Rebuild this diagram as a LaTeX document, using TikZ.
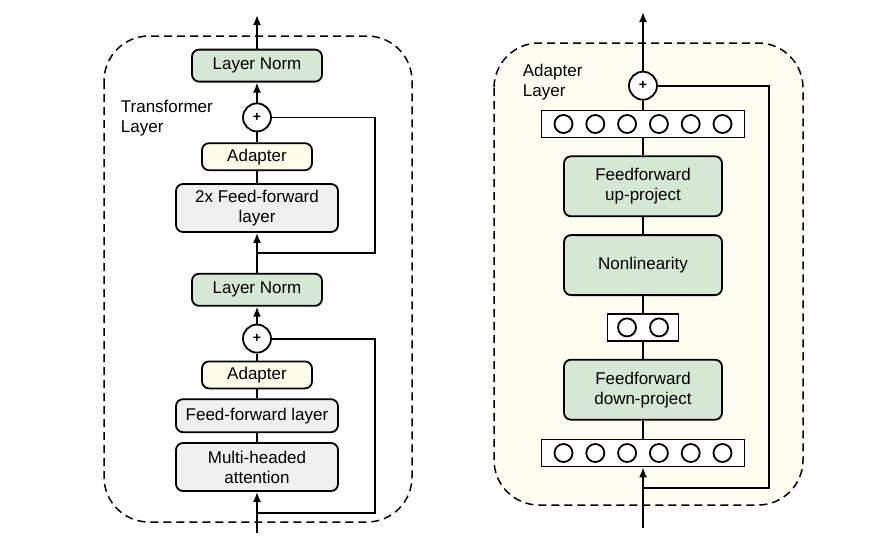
\documentclass[tikz,border=0pt]{standalone}
\usepackage{fontspec}
\setmainfont{Liberation Sans}
\usetikzlibrary{positioning, arrows.meta}

\definecolor{normgreen}{HTML}{D5E8D4}
\definecolor{adaptyellow}{HTML}{FFFCE9}
\definecolor{layergray}{HTML}{F0F0F0}
\definecolor{panelyellow}{HTML}{FEFDF0}

\begin{document}
\begin{tikzpicture}[x=1pt, y=-1pt,
    font=\fontsize{17}{20}\selectfont,
    line width=1.8pt,
    box/.style={draw, rounded corners=7pt, align=center, inner sep=0pt},
    norm/.style={box, fill=normgreen, minimum width=130pt, minimum height=32pt},
    adapt/.style={box, fill=adaptyellow, minimum width=110pt, minimum height=27pt},
    sublayer/.style={box, fill=layergray, minimum width=162pt},
    proj/.style={box, fill=normgreen, minimum width=158pt, minimum height=60pt},
    addop/.style={draw, circle, fill=white, minimum size=28pt, inner sep=0pt,
      font=\fontsize{14}{14}\selectfont\bfseries},
    neurons/.style={draw, fill=white, inner sep=0pt, minimum height=27pt},
    neuron/.style={draw, circle, fill=white, minimum size=18pt, inner sep=0pt},
    panel/.style={line width=1.5pt, dash pattern=on 8pt off 5pt, rounded corners=45pt},
    arr/.style={-{Latex[length=10pt, width=8pt]}}]
  \useasboundingbox (0,0) rectangle (874,552);

  % panels
  \draw[panel] (104,36) rectangle (412,522);
  \draw[panel, fill=panelyellow] (494,43) rectangle (803,505);

  % transformer layer
  \node[sublayer, minimum height=48pt] (mha) at (257,467) {Multi-headed\\attention};
  \node[sublayer, minimum height=33pt, above=9pt of mha] (ff) {Feed-forward layer};
  \node[adapt, above=9pt of ff] (ad1) {Adapter};
  \node[addop, above=7pt of ad1] (add1) {+};
  \node[norm, above=17pt of add1] (ln1) {Layer Norm};
  \node[sublayer, minimum height=48pt, above=40pt of ln1] (ff2) {2x Feed-forward\\layer};
  \node[adapt, above=12pt of ff2] (ad2) {Adapter};
  \node[addop, above=10pt of ad2] (add2) {+};
  \node[norm, above=20pt of add2] (ln2) {Layer Norm};
  \node[inner sep=0pt, anchor=north west, align=left] (tlabel) at (120,99) {Transformer\\Layer};

  \coordinate (lin) at (257,533);
  \coordinate (lout) at (257,15);
  \coordinate (lskip1) at (375,513);
  \coordinate (lskip2) at (375,253);
  \draw[arr] (lin) -- (mha);
  \draw (mha) -- (ff) (ff) -- (ad1) (ad1) -- (add1);
  \draw[arr] (add1) -- (ln1);
  \draw[arr] (ln1) -- (ff2);
  \draw (ff2) -- (ad2) (ad2) -- (add2);
  \draw[arr] (add2) -- (ln2);
  \draw[arr] (ln2) -- (lout);
  \draw (add1) -| (lskip1) -- (lskip1 -| mha);
  \draw (add2) -| (lskip2) -- (lskip2 -| ff2);

  % adapter layer
  \node[neurons, minimum width=203pt] (inbox) at (643,453) {};
  \node[proj, above=18pt of inbox] (down) {Feedforward\\down-project};
  \node[neurons, minimum width=71pt, above=17pt of down] (midbox) {};
  \node[proj, above=17pt of midbox] (nonlin) {Nonlinearity};
  \node[proj, above=17pt of nonlin] (up) {Feedforward\\up-project};
  \node[neurons, minimum width=203pt, above=17pt of up] (outbox) {};
  \node[addop, above=9pt of outbox] (add3) {+};
  \node[inner sep=0pt, anchor=north west, align=left] (alabel) at (522,63) {Adapter\\Layer};
  \foreach \i [evaluate=\i as \dx using (\i-3.5)*31.8] in {1,...,6} {
    \node[neuron] (xin\i) at ([xshift=\dx pt]inbox.center) {};
    \node[neuron] (xout\i) at ([xshift=\dx pt]outbox.center) {};
  }
  \foreach \i [evaluate=\i as \dx using (\i-1.5)*32] in {1,2}
    \node[neuron] (xmid\i) at ([xshift=\dx pt]midbox.center) {};

  \coordinate (rin) at (643,528);
  \coordinate (rout) at (643,12);
  \coordinate (rskip) at (769,488);
  \draw[arr] (rin) -- (inbox);
  \draw (inbox) -- (down) (down) -- (midbox) (midbox) -- (nonlin)
    (nonlin) -- (up) (up) -- (outbox) (outbox) -- (add3);
  \draw[arr] (add3) -- (rout);
  \draw (add3) -| (rskip) -- (rskip -| add3);
\end{tikzpicture}
\end{document}
